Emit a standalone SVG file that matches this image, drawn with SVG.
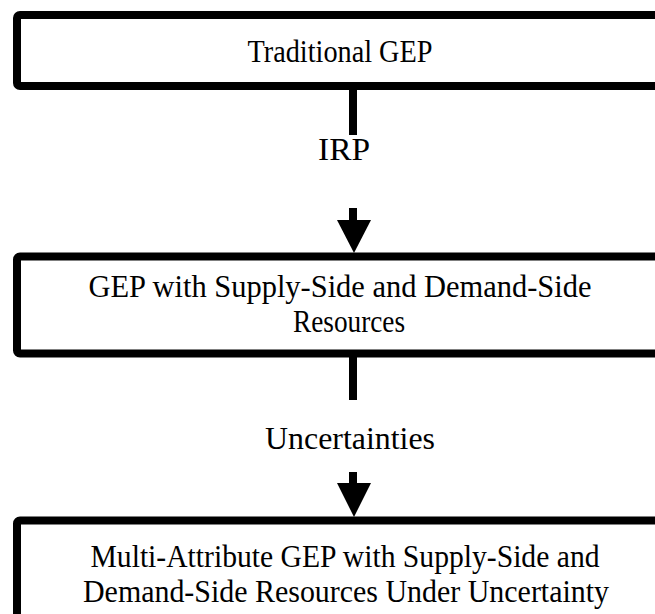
<svg xmlns="http://www.w3.org/2000/svg" width="655" height="614" viewBox="0 0 655 614">
  <style>
    .box { fill: #ffffff; stroke: #000000; stroke-width: 8; }
    .label { font-family: "Liberation Serif", "Times New Roman", serif; font-size: 32px; fill: #000000; text-anchor: middle; }
    .stem { stroke: #000000; stroke-width: 8; fill: none; }
    .head { fill: #000000; }
  </style>
  <rect x="0" y="0" width="655" height="614" fill="#ffffff"/>

  <g id="node-traditional">
    <rect class="box" x="17" y="15" width="700" height="71" rx="3"/>
    <text class="label" x="340" y="62" textLength="185" lengthAdjust="spacingAndGlyphs">Traditional GEP</text>
  </g>

  <g id="node-supply-demand">
    <rect class="box" x="17" y="256.5" width="700" height="97" rx="3"/>
    <text class="label" x="340" y="297" textLength="503" lengthAdjust="spacingAndGlyphs">GEP with Supply-Side and Demand-Side</text>
    <text class="label" x="349" y="332" textLength="112" lengthAdjust="spacingAndGlyphs">Resources</text>
  </g>

  <g id="node-multi-attribute">
    <rect class="box" x="17" y="520.5" width="700" height="130" rx="3"/>
    <text class="label" x="345" y="567" textLength="509" lengthAdjust="spacingAndGlyphs">Multi-Attribute GEP with Supply-Side and</text>
    <text class="label" x="346" y="602" textLength="526" lengthAdjust="spacingAndGlyphs">Demand-Side Resources Under Uncertainty</text>
  </g>

  <g id="connectors">
    <line class="stem" x1="353" y1="88" x2="353" y2="135"/>
    <text class="label" x="344" y="160" textLength="52" lengthAdjust="spacingAndGlyphs">IRP</text>
    <line class="stem" x1="353" y1="208" x2="353" y2="222"/>
    <polygon class="head" points="337,220 371,220 354,253"/>

    <line class="stem" x1="353" y1="355" x2="353" y2="400"/>
    <text class="label" x="350" y="449" textLength="170" lengthAdjust="spacingAndGlyphs">Uncertainties</text>
    <line class="stem" x1="353" y1="472" x2="353" y2="485"/>
    <polygon class="head" points="337,483 371,483 354,517"/>
  </g>
</svg>
